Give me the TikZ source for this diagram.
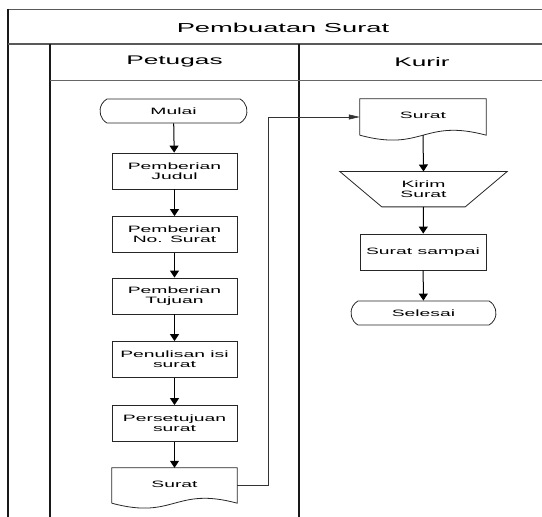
\documentclass[tikz,border=0pt]{standalone}
\usepackage{fontspec}
\setmainfont{Liberation Sans}[FakeStretch=2.1]
\usetikzlibrary{arrows.meta,shapes.misc,calc}

\begin{document}
\begin{tikzpicture}[x=1pt,y=1pt,
  rule/.style={line width=1.4pt, draw=black!65},
  wall/.style={line width=1.8pt, draw=black!90},
  thinrule/.style={line width=1pt, draw=black!60},
  boxtext/.style={font=\fontsize{9.2}{9.6}\selectfont, align=center, inner sep=0pt},
  proc/.style={boxtext, draw=black!85, line width=0.8pt, minimum width=125pt, minimum height=36pt},
  term/.style={boxtext, rounded rectangle, rounded rectangle arc length=120, draw=black!85, line width=0.8pt, minimum height=24pt},
  ghost/.style={boxtext, minimum width=125pt, minimum height=35pt},
  outline/.style={draw=black!85, line width=0.8pt},
  flow/.style={-{Triangle[width=9pt,length=7pt]}, line width=1pt},
  link/.style={-{Triangle[width=5pt,length=11pt]}, line width=0.6pt, draw=black!80}
]
\useasboundingbox (0,0) rectangle (542,517);

% pool frame and lanes
\draw[rule] (8,507.5) -- (542,507.5);
\draw[wall] (8,508.2) -- (8,0);
\draw[rule, line width=1.8pt] (8,473) -- (542,473);
\draw[wall] (50,473) -- (50,0);
\draw[wall] (299,473) -- (299,0);
\draw[thinrule] (50,436) -- (542,436);

\node[font=\fontsize{13}{13}\selectfont] (pool) at (283,489) {Pembuatan Surat};
\node[font=\fontsize{12.5}{12.5}\selectfont] (lanea) at (174.5,455) {Petugas};
\node[font=\fontsize{12.5}{12.5}\selectfont] (laneb) at (422,455) {Kurir};

% Petugas lane
\node[term, minimum width=147pt] (mulai) at (173.5,406) {Mulai};
\node[proc] (judul) at (174.5,346) {Pemberian\\Judul};
\node[proc] (nomor) at (174.5,282.5) {Pemberian\\No. Surat};
\node[proc] (tujuan) at (174.5,221) {Pemberian\\Tujuan};
\node[proc] (tulis) at (174.5,157.5) {Penulisan isi\\surat};
\node[proc] (setuju) at (174.5,93.5) {Persetujuan\\surat};
\node[ghost] (doca) at (174.5,31.5) {\raisebox{2.5pt}{Surat}};
\draw[outline] (doca.south west) -- (doca.north west) -- (doca.north east) -- (doca.south east)
  .. controls ($(doca.south)+(0,17)$) and ($(doca.south)+(0,-17)$) .. (doca.south west);

% Kurir lane
\node[ghost, minimum width=126pt, minimum height=36pt] (docb) at (423,400) {\raisebox{2.5pt}{Surat}};
\draw[outline] (docb.south west) -- (docb.north west) -- (docb.north east) -- (docb.south east)
  .. controls ($(docb.south)+(0,17)$) and ($(docb.south)+(0,-17)$) .. (docb.south west);
\node[ghost, minimum width=167pt] (kirim) at (423.5,327.8) {Kirim\\Surat};
\draw[outline] (kirim.north west) -- (kirim.north east) -- ([xshift=-42pt]kirim.south east)
  -- ([xshift=42pt]kirim.south west) -- cycle;
\node[proc, minimum width=126pt] (sampai) at (423,265) {Surat sampai};
\node[term, minimum width=145pt] (selesai) at (423.5,204) {Selesai};

% flow
\draw[flow] (mulai) -- (judul);
\draw[flow] (judul) -- (nomor);
\draw[flow] (nomor) -- (tujuan);
\draw[flow] (tujuan) -- (tulis);
\draw[flow] (tulis) -- (setuju);
\draw[flow] (setuju) -- (doca);
\draw[link] (doca.east) -- ++(31,0) |- (docb.west);
\draw[flow] (docb.south) -- (kirim.north);
\draw[flow] (kirim.south) -- (sampai);
\draw[flow] (sampai) -- (selesai);
\end{tikzpicture}
\end{document}
